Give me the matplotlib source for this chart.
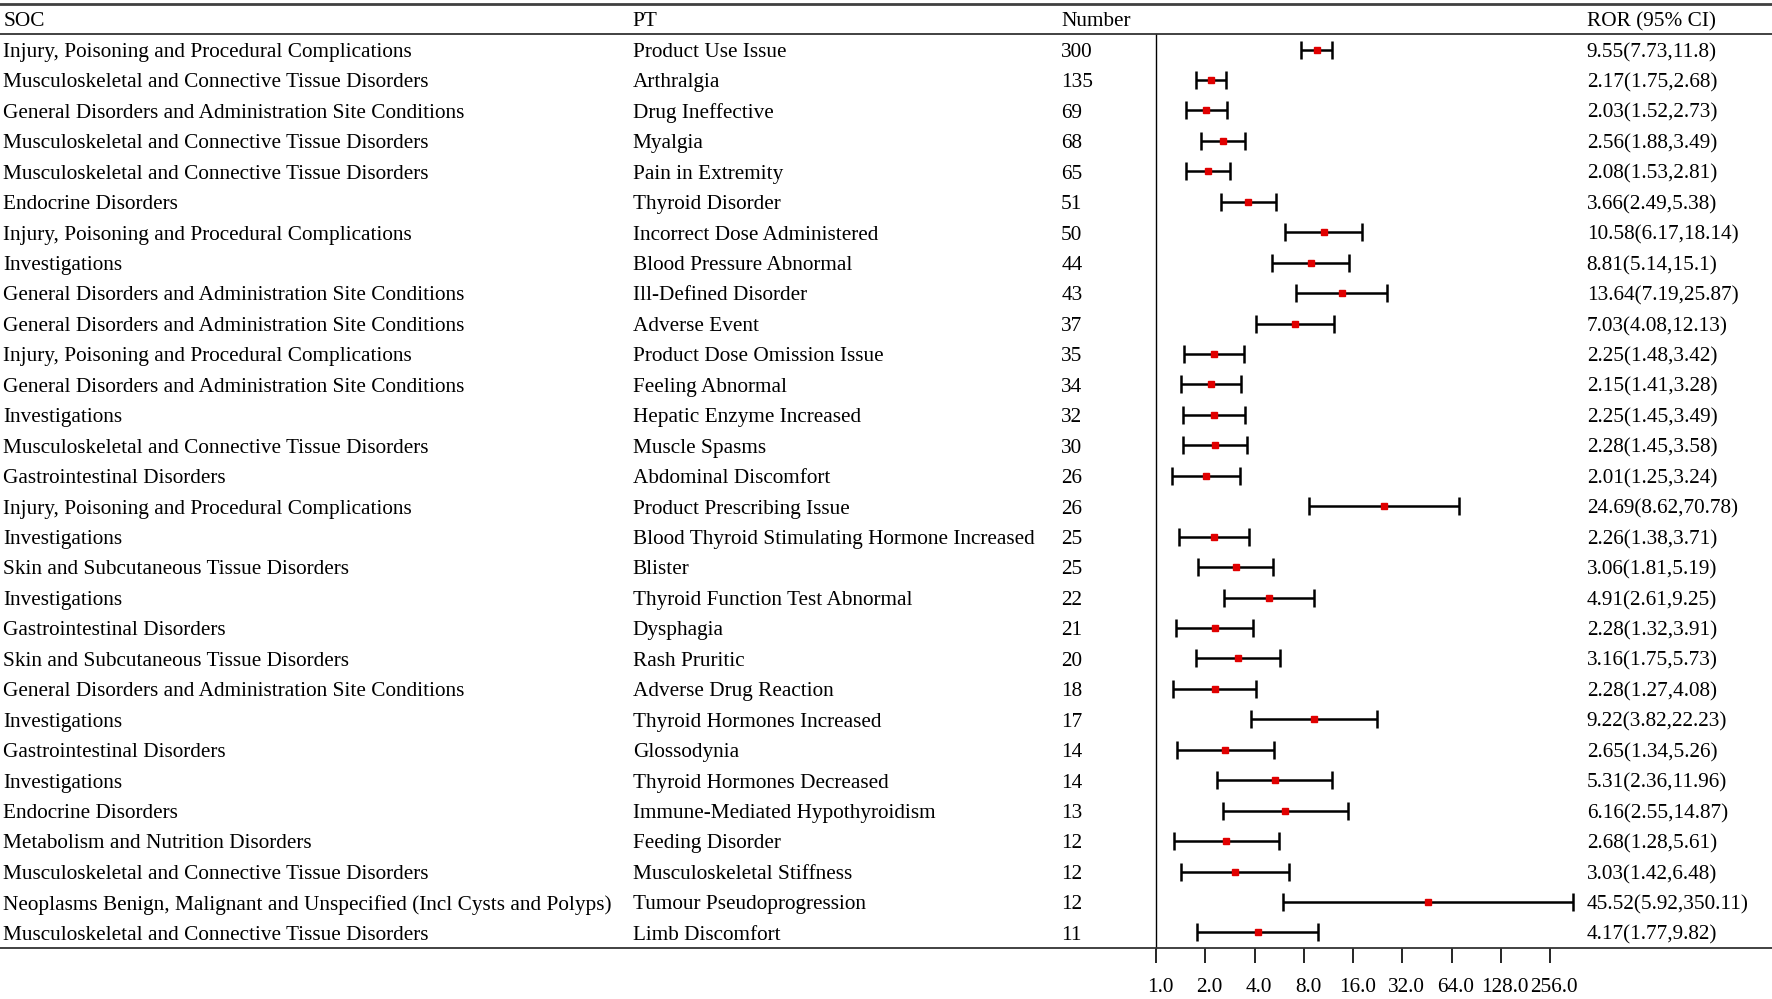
import matplotlib
matplotlib.use("Agg")
import matplotlib.pyplot as plt
import matplotlib.transforms as mtransforms
import numpy as np

plt.rcParams['font.family'] = ['Liberation Serif', 'DejaVu Serif']

MSK = "Musculoskeletal and Connective Tissue Disorders"
INJ = "Injury, Poisoning and Procedural Complications"
GEN = "General Disorders and Administration Site Conditions"
INV = "Investigations"
END = "Endocrine Disorders"
GAS = "Gastrointestinal Disorders"
SKN = "Skin and Subcutaneous Tissue Disorders"
MET = "Metabolism and Nutrition Disorders"
NEO = "Neoplasms Benign, Malignant and Unspecified (Incl Cysts and Polyps)"

soc = [INJ, MSK, GEN, MSK, MSK, END, INJ, INV, GEN, GEN, INJ, GEN, INV, MSK, GAS,
       INJ, INV, SKN, INV, GAS, SKN, GEN, INV, GAS, INV, END, MET, MSK, NEO, MSK]
pt = ["Product Use Issue", "Arthralgia", "Drug Ineffective", "Myalgia", "Pain in Extremity",
      "Thyroid Disorder", "Incorrect Dose Administered", "Blood Pressure Abnormal",
      "Ill-Defined Disorder", "Adverse Event", "Product Dose Omission Issue",
      "Feeling Abnormal", "Hepatic Enzyme Increased", "Muscle Spasms",
      "Abdominal Discomfort", "Product Prescribing Issue",
      "Blood Thyroid Stimulating Hormone Increased", "Blister",
      "Thyroid Function Test Abnormal", "Dysphagia", "Rash Pruritic",
      "Adverse Drug Reaction", "Thyroid Hormones Increased", "Glossodynia",
      "Thyroid Hormones Decreased", "Immune-Mediated Hypothyroidism",
      "Feeding Disorder", "Musculoskeletal Stiffness", "Tumour Pseudoprogression",
      "Limb Discomfort"]
number = [300, 135, 69, 68, 65, 51, 50, 44, 43, 37, 35, 34, 32, 30, 26, 26, 25, 25,
          22, 21, 20, 18, 17, 14, 14, 13, 12, 12, 12, 11]
ror = [9.55, 2.17, 2.03, 2.56, 2.08, 3.66, 10.58, 8.81, 13.64, 7.03, 2.25, 2.15, 2.25,
       2.28, 2.01, 24.69, 2.26, 3.06, 4.91, 2.28, 3.16, 2.28, 9.22, 2.65, 5.31, 6.16,
       2.68, 3.03, 45.52, 4.17]
lower = [7.73, 1.75, 1.52, 1.88, 1.53, 2.49, 6.17, 5.14, 7.19, 4.08, 1.48, 1.41, 1.45,
         1.45, 1.25, 8.62, 1.38, 1.81, 2.61, 1.32, 1.75, 1.27, 3.82, 1.34, 2.36, 2.55,
         1.28, 1.42, 5.92, 1.77]
upper = [11.8, 2.68, 2.73, 3.49, 2.81, 5.38, 18.14, 15.1, 25.87, 12.13, 3.42, 3.28,
         3.49, 3.58, 3.24, 70.78, 3.71, 5.19, 9.25, 3.91, 5.73, 4.08, 22.23, 5.26,
         11.96, 14.87, 5.61, 6.48, 350.11, 9.82]
headers = ["SOC", "PT", "Number", "ROR (95% CI)"]
tick_values = [1, 2, 4, 8, 16, 32, 64, 128, 256]
tick_labels = ["1.0", "2.0", "4.0", "8.0", "16.0", "32.0", "64.0", "128.0", "256.0"]

FS = 15.35
fig = plt.figure(figsize=(17.72, 9.99), dpi=100)

# layout in figure fractions
y_top_line = 1 - 3.5 / 886
y_head_line = 1 - 30.5 / 886
y_bot_line = 1 - 840.5 / 886
x_axis_left = 1023 / 1568
col_x = [3 / 1568, 560 / 1568, 939 / 1568, 1404 / 1568]

ax = fig.add_axes([x_axis_left, y_bot_line, 1 - x_axis_left, y_head_line - y_bot_line])
n = len(ror)
ypos = np.arange(n)
ax.set_xscale('log', base=2)
ax.set_xlim(1, 2 ** 12.5)
ax.set_ylim(n - 0.5, -0.5)

err = np.array([np.array(ror) - np.array(lower), np.array(upper) - np.array(ror)])
ax.errorbar(ror, ypos, xerr=err, fmt='none', ecolor='black', elinewidth=1.8,
            capsize=6.5, capthick=1.8, clip_on=False, zorder=2)
ax.plot(ror, ypos, 's', color='#e00000', markersize=5, zorder=3, clip_on=False)

for s in ['top', 'right', 'bottom']:
    ax.spines[s].set_visible(False)
ax.spines['left'].set_linewidth(1.0)
ax.set_yticks([])
ax.set_xticks(tick_values)
ax.set_xticklabels(tick_labels, fontsize=FS)
ax.minorticks_off()
ax.tick_params(axis='x', length=11, width=1.2, pad=11, direction='out')
for lbl in ax.get_xticklabels():
    lbl.set_transform(lbl.get_transform() + mtransforms.ScaledTranslation(4 / 100, 0, fig.dpi_scale_trans))
ax.patch.set_visible(False)

# table lines
fig.add_artist(plt.Line2D([0, 1], [y_top_line] * 2, color='#404040', lw=2.0))
fig.add_artist(plt.Line2D([0, 1], [y_head_line] * 2, color='#333333', lw=1.3))
fig.add_artist(plt.Line2D([0, 1], [y_bot_line] * 2, color='#333333', lw=1.3))

down = mtransforms.ScaledTranslation(0, -2.8 / 100, fig.dpi_scale_trans)

# headers
y_head = 1 - 17 / 886
for x, h in zip(col_x, headers):
    fig.text(x, y_head, h, fontsize=FS, ha='left', va='center',
             transform=fig.transFigure + down)

trans = mtransforms.blended_transform_factory(fig.transFigure, ax.transData) + down
for i in range(n):
    txt = [soc[i], pt[i], str(number[i]), f"{ror[i]:g}({lower[i]:g},{upper[i]:g})"]
    for x, t in zip(col_x, txt):
        ax.text(x, i, t, transform=trans, fontsize=FS, ha='left', va='center', clip_on=False)

fig.savefig("out.png", dpi=100)
